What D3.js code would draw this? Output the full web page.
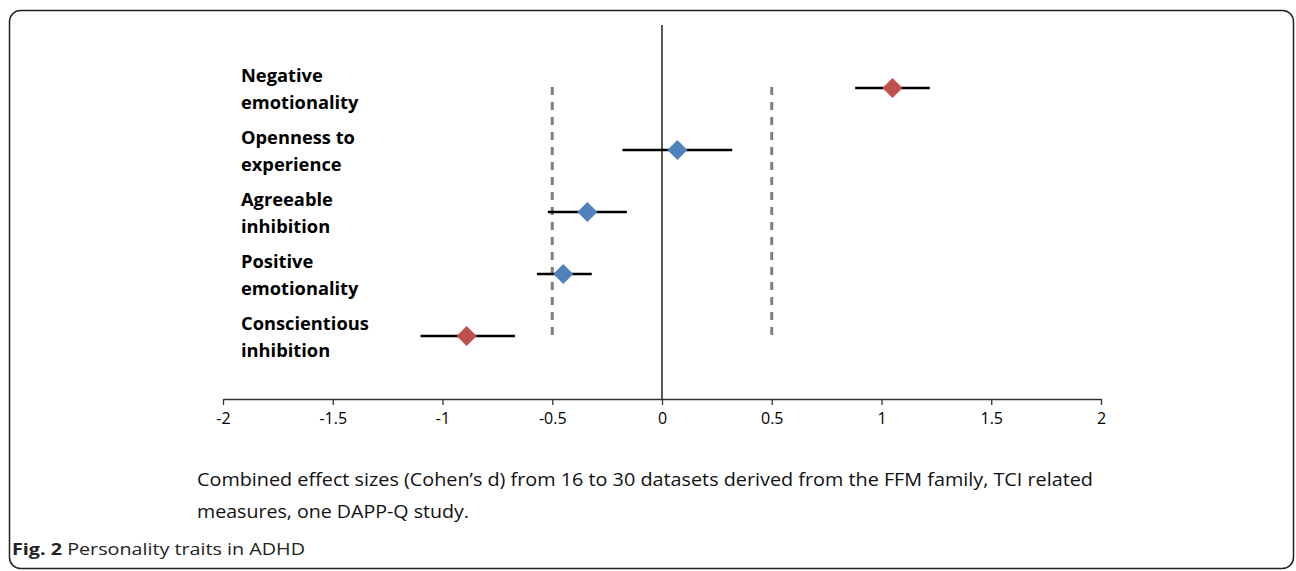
<!DOCTYPE html>
<html><head><meta charset="utf-8">
<script src="https://cdn.jsdelivr.net/npm/d3@7"></script>
<style>body{margin:0;background:#fff}</style>
</head><body><svg id="c" width="1296" height="571"></svg>
<script>
const traits = [["Negative","emotionality"],["Openness to","experience"],["Agreeable","inhibition"],["Positive","emotionality"],["Conscientious","inhibition"]];
const effect = [1.05, 0.07, -0.34, -0.45, -0.89];
const lower = [0.88, -0.18, -0.52, -0.57, -1.10];
const upper = [1.22, 0.32, -0.16, -0.32, -0.67];
const significant = [true, false, false, false, true];
const xTicks = [-2, -1.5, -1, -0.5, 0, 0.5, 1, 1.5, 2];
const refLines = [-0.5, 0.5];
const captionLines = ["Combined effect sizes (Cohen\u2019s d) from 16 to 30 datasets derived from the FFM family, TCI related","measures, one DAPP-Q study."];

const svg = d3.select("#c");
const font = "'Open Sans', sans-serif";
svg.append("rect").attr("x",9.5).attr("y",10.5).attr("width",1284).attr("height",558)
  .attr("rx",11).attr("fill","none").attr("stroke","#222").attr("stroke-width",1.5);

const x = d3.scaleLinear().domain([-2,2]).range([223,1101]);
const y = d3.scalePoint().domain(d3.range(traits.length)).range([88,336]);
const axisY = 399;

const g = svg.append("g");
g.selectAll(".ref").data(refLines).join("line")
  .attr("x1",d=>x(d)).attr("x2",d=>x(d)).attr("y1",87).attr("y2",338)
  .attr("stroke","#7f7f7f").attr("stroke-width",3).attr("stroke-dasharray","8,7");
g.append("line").attr("x1",x(0)).attr("x2",x(0)).attr("y1",25).attr("y2",axisY)
  .attr("stroke","#000").attr("stroke-width",1.3);

const ax = svg.append("g").attr("transform",`translate(0,${axisY})`)
  .call(d3.axisBottom(x).tickValues(xTicks).tickSize(6).tickSizeOuter(0).tickPadding(8).tickFormat(d=>String(d)));
ax.select(".domain").attr("stroke","#333").attr("stroke-width",1.3);
ax.selectAll(".tick line").attr("stroke","#333").attr("stroke-width",1.3);
ax.selectAll(".tick text").attr("font-family",font).attr("font-size",16).attr("fill","#000");

g.selectAll(".ci").data(effect).join("line")
  .attr("x1",(d,i)=>x(lower[i])).attr("x2",(d,i)=>x(upper[i]))
  .attr("y1",(d,i)=>y(i)).attr("y2",(d,i)=>y(i))
  .attr("stroke","#000").attr("stroke-width",2.5);
const diamond = d3.symbol().type(d3.symbolSquare).size(200);
g.selectAll(".pt").data(effect).join("path")
  .attr("d",diamond)
  .attr("transform",(d,i)=>`translate(${x(d)},${y(i)}) rotate(45)`)
  .attr("fill",(d,i)=>significant[i]?"#c0504d":"#4f81bd");

traits.forEach((t,i)=>{
  const tx = svg.append("text").attr("x",241).attr("y",y(i)-6)
    .attr("font-family",font).attr("font-weight","bold").attr("font-size",18.3).attr("fill","#000");
  tx.append("tspan").attr("x",241).text(t[0]);
  tx.append("tspan").attr("x",241).attr("dy",27).text(t[1]);
});

const capLens = [896, 272];
captionLines.forEach((c,i)=>{
  svg.append("text").attr("x",197).attr("y",486+i*32).attr("font-family",font)
    .attr("font-size",18.5).attr("fill","#111")
    .attr("textLength",capLens[i]).attr("lengthAdjust","spacingAndGlyphs").text(c);
});
const fig = svg.append("text").attr("x",12).attr("y",555).attr("font-family",font).attr("font-size",16.5).attr("fill","#222")
  .attr("textLength",293).attr("lengthAdjust","spacingAndGlyphs");
fig.append("tspan").attr("font-weight","bold").text("Fig. 2");
fig.append("tspan").text(" Personality traits in ADHD");
</script></body></html>
